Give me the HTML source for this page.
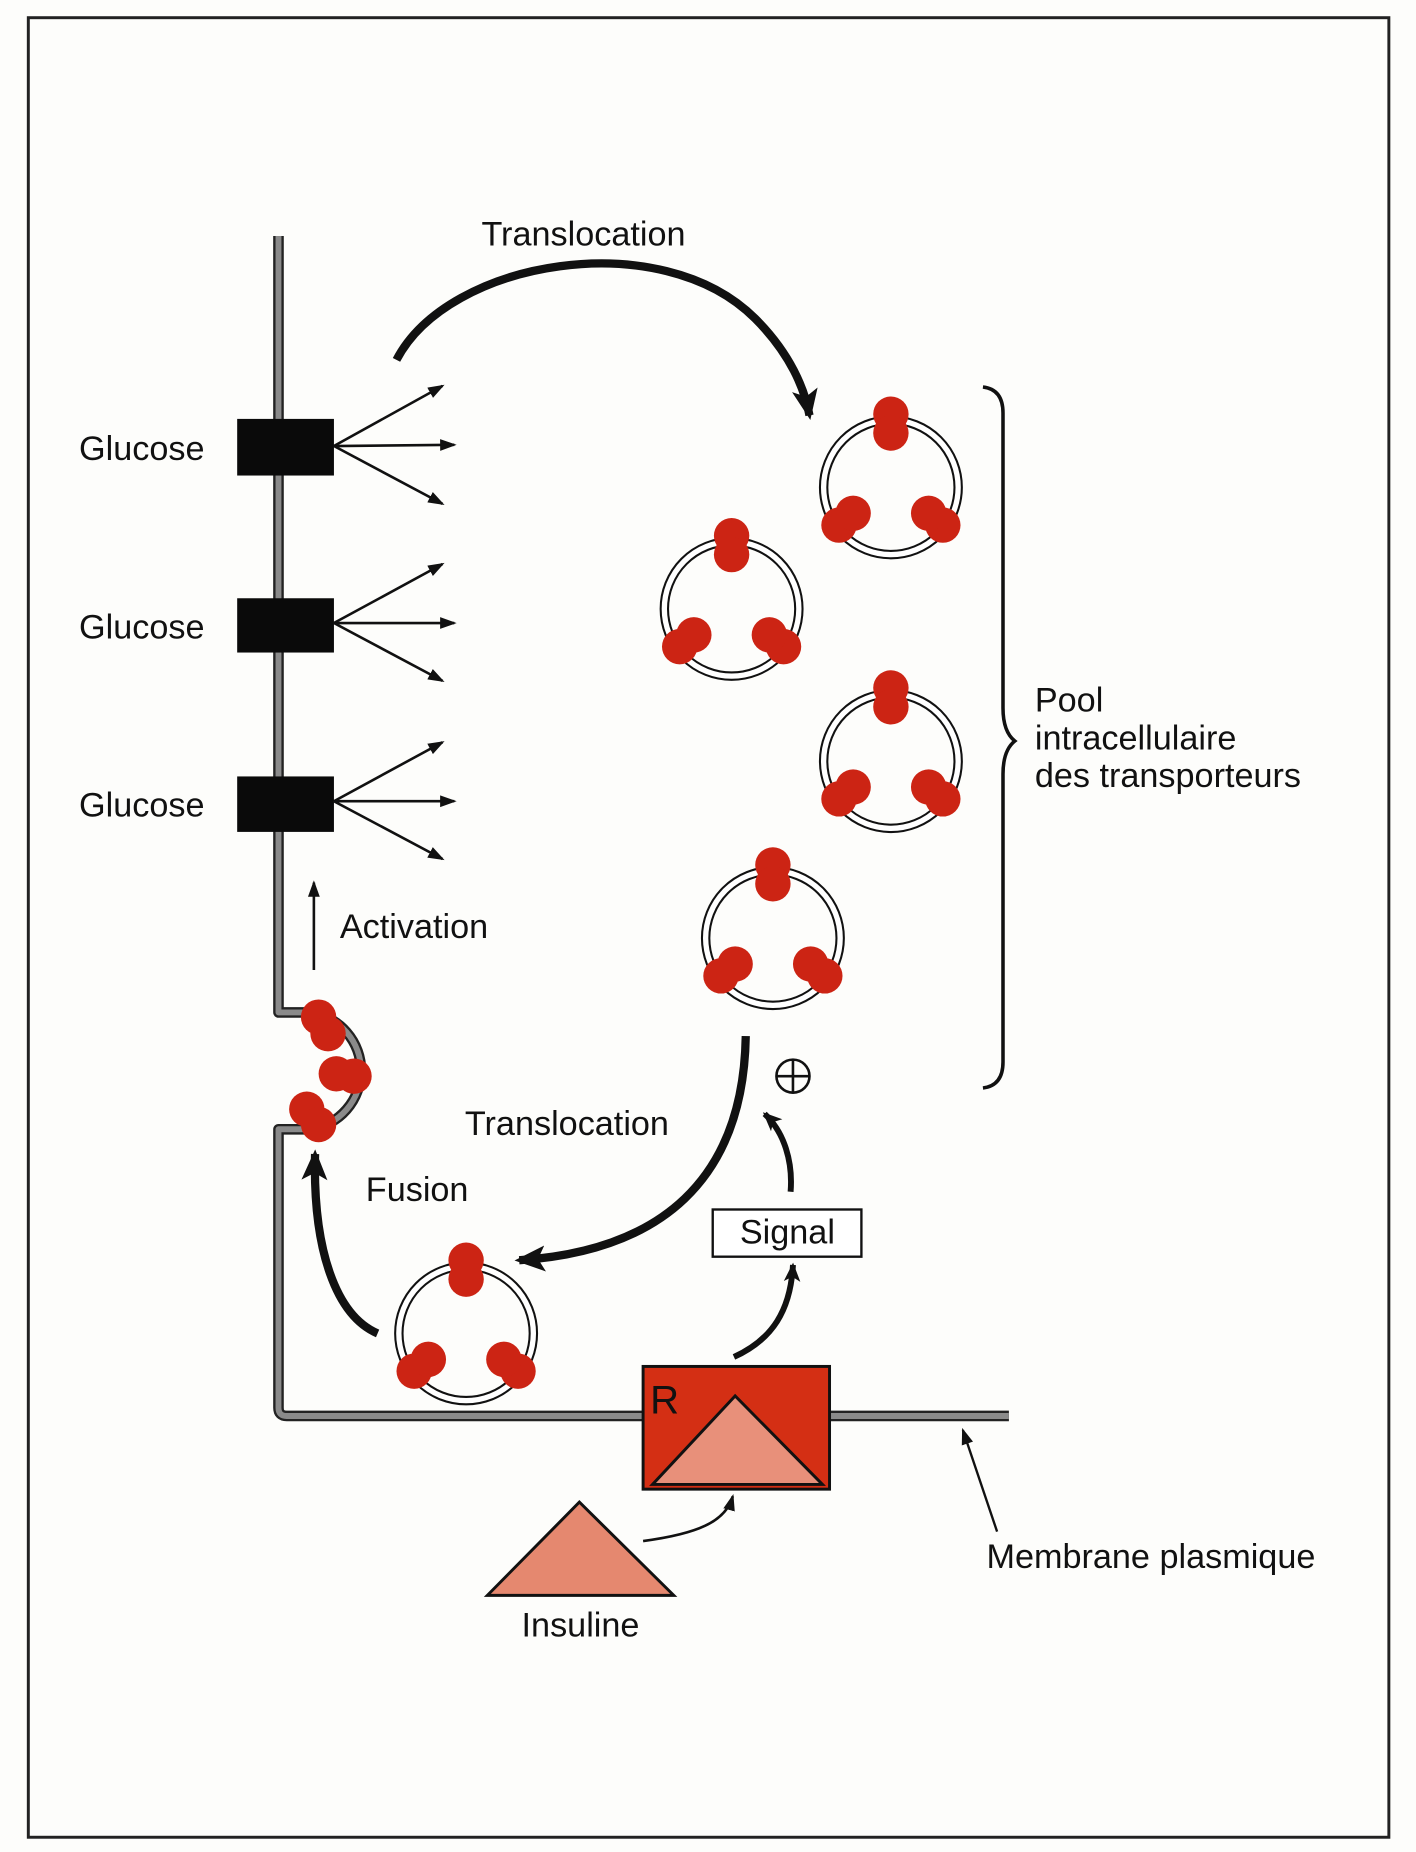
<!DOCTYPE html>
<html><head><meta charset="utf-8"><style>
html,body{margin:0;padding:0;background:#fdfdfb;}
svg{display:block;}
text{font-family:"Liberation Sans",sans-serif;fill:#111;}
</style></head><body>
<svg width="1416" height="1852" viewBox="0 0 1200 1569.5" preserveAspectRatio="none" xmlns="http://www.w3.org/2000/svg">
<defs>
<marker id="ah" markerWidth="14" markerHeight="12" refX="12" refY="6" orient="auto" markerUnits="userSpaceOnUse"><path d="M0,1 L14,6 L0,11 Z" fill="#111"/></marker>
<marker id="bh" markerWidth="30" markerHeight="26" refX="22" refY="13" orient="auto" markerUnits="userSpaceOnUse"><path d="M0,2 L26,13 L0,24 L6,13 Z" fill="#111"/></marker>
<marker id="mh" markerWidth="18" markerHeight="16" refX="14" refY="8" orient="auto" markerUnits="userSpaceOnUse"><path d="M0,1 L16,8 L0,15 L4,8 Z" fill="#111"/></marker>
<g id="ves">
<circle r="57" fill="none" stroke="#111" stroke-width="8"/>
<circle r="57" fill="none" stroke="#fff" stroke-width="4.5"/>
<circle cx="0" cy="-62" r="15" fill="#cc2414"/><circle cx="0" cy="-46" r="15" fill="#cc2414"/>
<circle cx="-44" cy="32" r="15" fill="#cc2414"/><circle cx="-32" cy="22" r="15" fill="#cc2414"/>
<circle cx="44" cy="32" r="15" fill="#cc2414"/><circle cx="32" cy="22" r="15" fill="#cc2414"/>
</g>
</defs>
<rect x="24" y="15" width="1153" height="1542" fill="none" stroke="#222" stroke-width="2.5"/>

<g fill="none" stroke-linejoin="round">
<path d="M236 200 V858 H263" stroke="#222" stroke-width="9"/>
<path d="M263 957 H236 V1193 Q236 1200 243 1200 H855" stroke="#222" stroke-width="9"/>
<path d="M236 200 V858 H263" stroke="#8a8a8a" stroke-width="5"/>
<path d="M263 957 H236 V1193 Q236 1200 243 1200 H855" stroke="#8a8a8a" stroke-width="5"/>
<path d="M263 858 A50 50 0 0 1 263 957" stroke="#222" stroke-width="9"/>
<path d="M263 858 A50 50 0 0 1 263 957" stroke="#8a8a8a" stroke-width="5"/>
</g>
<circle cx="270" cy="862" r="15" fill="#cc2414"/><circle cx="278" cy="876" r="15" fill="#cc2414"/>
<circle cx="285" cy="910" r="15" fill="#cc2414"/><circle cx="300" cy="912" r="15" fill="#cc2414"/>
<circle cx="260" cy="940" r="15" fill="#cc2414"/><circle cx="270" cy="953" r="15" fill="#cc2414"/>

<g stroke="#111" stroke-width="2.2" fill="none" marker-end="url(#ah)">
<path d="M283 378 L375 327"/><path d="M283 378 L385 377"/><path d="M283 378 L375 427"/>
<path d="M283 528 L375 478"/><path d="M283 528 L385 528"/><path d="M283 528 L375 577"/>
<path d="M283 679 L375 629"/><path d="M283 679 L385 679"/><path d="M283 679 L375 728"/>
<path d="M266 822 L266 748"/>
</g>
<rect x="201" y="355" width="82" height="48" fill="#0a0a0a"/>
<rect x="201" y="507" width="82" height="46" fill="#0a0a0a"/>
<rect x="201" y="658" width="82" height="47" fill="#0a0a0a"/>
<text x="67" y="390" font-size="29">Glucose</text>
<text x="67" y="541" font-size="29">Glucose</text>
<text x="67" y="692" font-size="29">Glucose</text>
<text x="288" y="795" font-size="29">Activation</text>

<text x="408" y="208" font-size="29">Translocation</text>
<path d="M336 305 C380 220 560 190 640 270 C670 300 682 330 686 352" fill="none" stroke="#111" stroke-width="7" marker-end="url(#bh)"/>

<use href="#ves" x="755" y="413"/>
<use href="#ves" x="620" y="516"/>
<use href="#ves" x="755" y="645"/>
<use href="#ves" x="655" y="795"/>
<use href="#ves" x="395" y="1130"/>

<path d="M833 328 Q850 330 850 350 V600 Q850 620 860 628 Q850 636 850 656 V900 Q850 920 833 922" fill="none" stroke="#111" stroke-width="3"/>
<text x="877" y="603" font-size="29">Pool</text>
<text x="877" y="635" font-size="29">intracellulaire</text>
<text x="877" y="667" font-size="29">des transporteurs</text>

<circle cx="672" cy="912" r="14" fill="none" stroke="#111" stroke-width="2.2"/>
<path d="M658 912 H686 M672 898 V926" stroke="#111" stroke-width="2.2"/>

<text x="394" y="962" font-size="29">Translocation</text>
<path d="M632 878 C630 1000 560 1060 440 1068" fill="none" stroke="#111" stroke-width="7" marker-end="url(#bh)"/>
<path d="M670 1010 C672 985 665 960 648 944" fill="none" stroke="#111" stroke-width="5" marker-end="url(#mh)"/>
<rect x="604" y="1025" width="126" height="40" fill="#fff" stroke="#111" stroke-width="2"/>
<text x="627" y="1054" font-size="29">Signal</text>
<path d="M622 1150 C655 1135 670 1110 672 1072" fill="none" stroke="#111" stroke-width="5" marker-end="url(#mh)"/>

<text x="310" y="1018" font-size="29">Fusion</text>
<path d="M320 1130 C285 1115 265 1060 267 978" fill="none" stroke="#111" stroke-width="7" marker-end="url(#bh)"/>

<rect x="545" y="1158" width="158" height="104" fill="#d42f14" stroke="#111" stroke-width="2.5"/>
<polygon points="553,1258 623,1183 697,1258" fill="#e8907a" stroke="#111" stroke-width="2.5"/>
<text x="551" y="1198" font-size="34">R</text>

<polygon points="413,1352 491,1273 571,1352" fill="#e5886f" stroke="#111" stroke-width="2.5"/>
<text x="442" y="1387" font-size="29">Insuline</text>
<path d="M545 1306 C590 1300 615 1290 621 1268" fill="none" stroke="#111" stroke-width="2.2" marker-end="url(#ah)"/>

<path d="M845 1298 L816 1212" fill="none" stroke="#111" stroke-width="2" marker-end="url(#ah)"/>
<text x="836" y="1329" font-size="29">Membrane plasmique</text>
</svg>
</body></html>
